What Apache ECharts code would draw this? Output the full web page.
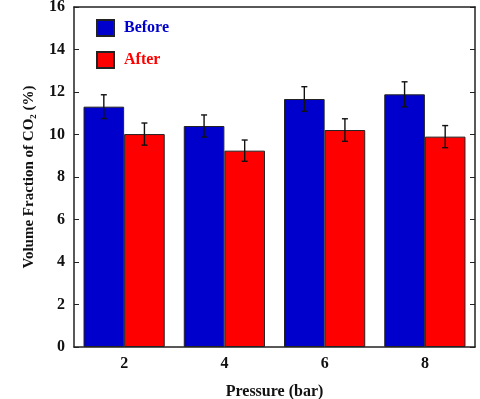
<!DOCTYPE html>
<html>
<head>
<meta charset="utf-8">
<script src="https://cdn.jsdelivr.net/npm/echarts@6/dist/echarts.min.js"></script>
<style>
  html, body { margin: 0; padding: 0; background: #fff; }
  #chart { width: 480px; height: 399px; }
</style>
</head>
<body>
<div id="chart"></div>
<script>
var categories = ['2', '4', '6', '8'];
var before = [11.31, 10.40, 11.67, 11.89];
var after = [10.02, 9.24, 10.21, 9.90];
var beforeErr = [0.56, 0.52, 0.58, 0.59];
var afterErr = [0.52, 0.50, 0.53, 0.52];

var blue = '#0000cc';
var red = '#ff0000';
var lineColor = '#222';
var font = '"Liberation Serif", "DejaVu Serif", serif';
var gapPct = 19;

function errData(vals, errs) {
    return vals.map(function (v, i) {
        return [i, v - errs[i], v + errs[i]];
    });
}

// side: -1 for left bar of the group, +1 for right bar
function errRender(side) {
    return function (params, api) {
        var lo = api.coord([api.value(0), api.value(1)]);
        var hi = api.coord([api.value(0), api.value(2)]);
        var band = api.size([1, 0])[0];
        var barW = band * (1 - gapPct / 100) / 2;
        var x = lo[0] + side * barW / 2;
        var cap = 3;
        var style = { stroke: '#111', lineWidth: 1.4 };
        return {
            type: 'group',
            children: [
                { type: 'line', shape: { x1: x, y1: lo[1], x2: x, y2: hi[1] }, style: style },
                { type: 'line', shape: { x1: x - cap, y1: lo[1], x2: x + cap, y2: lo[1] }, style: style },
                { type: 'line', shape: { x1: x - cap, y1: hi[1], x2: x + cap, y2: hi[1] }, style: style }
            ]
        };
    };
}

var chart = echarts.init(document.getElementById('chart'));
var option = {
    backgroundColor: '#fff',
    animation: false,
    textStyle: { fontFamily: font },
    grid: { left: 74, right: 5, top: 7, bottom: 52, containLabel: false, outerBoundsMode: 'none' },
    legend: {
        orient: 'vertical',
        left: 91,
        top: 14,
        itemWidth: 17,
        itemHeight: 16,
        itemGap: 14,
        icon: 'rect',
        textStyle: { fontFamily: font, fontWeight: 'bold', fontSize: 16, padding: [0, 0, 0, 5] },
        data: [
            { name: 'Before', textStyle: { color: blue } },
            { name: 'After', textStyle: { color: red } }
        ]
    },
    xAxis: [
        {
            type: 'category',
            data: categories,
            name: 'Pressure (bar)',
            nameLocation: 'middle',
            nameGap: 37,
            nameTextStyle: { fontFamily: font, fontWeight: 'bold', fontSize: 16, color: '#111' },
            axisLine: { lineStyle: { color: lineColor, width: 1.5 } },
            axisTick: { inside: true, length: 4, lineStyle: { color: lineColor } },
            axisLabel: { fontFamily: font, fontWeight: 'bold', fontSize: 16, color: '#111', margin: 9 },
            splitLine: { show: false }
        },
        {
            type: 'category',
            data: categories,
            position: 'top',
            axisLine: { onZero: false, lineStyle: { color: lineColor, width: 1.5 } },
            axisTick: { inside: true, length: 4, lineStyle: { color: lineColor } },
            axisLabel: { show: false },
            splitLine: { show: false }
        }
    ],
    yAxis: [
        {
            type: 'value',
            min: 0,
            max: 16,
            interval: 2,
            name: 'Volume Fraction of CO\u2082 (%)',
            nameLocation: 'middle',
            nameGap: 37,
            nameTextStyle: { fontFamily: font, fontWeight: 'bold', fontSize: 15, color: '#111' },
            axisLine: { show: true, lineStyle: { color: lineColor, width: 1.5 } },
            axisTick: { show: true, inside: true, length: 5, lineStyle: { color: lineColor } },
            axisLabel: { fontFamily: font, fontWeight: 'bold', fontSize: 16, color: '#111', margin: 9 },
            splitLine: { show: false }
        },
        {
            type: 'value',
            min: 0,
            max: 16,
            interval: 2,
            position: 'right',
            axisLine: { show: true, onZero: false, lineStyle: { color: lineColor, width: 1.5 } },
            axisTick: { show: true, inside: true, length: 5, lineStyle: { color: lineColor } },
            axisLabel: { show: false },
            splitLine: { show: false }
        }
    ],
    series: [
        {
            name: 'Before',
            type: 'bar',
            data: before,
            barGap: '0%',
            barCategoryGap: gapPct + '%',
            itemStyle: { color: blue, borderColor: lineColor, borderWidth: 1 }
        },
        {
            name: 'After',
            type: 'bar',
            data: after,
            itemStyle: { color: red, borderColor: lineColor, borderWidth: 1 }
        },
        {
            name: 'Before err',
            type: 'custom',
            renderItem: errRender(-1),
            data: errData(before, beforeErr),
            encode: { x: 0, y: [1, 2] },
            z: 10
        },
        {
            name: 'After err',
            type: 'custom',
            renderItem: errRender(1),
            data: errData(after, afterErr),
            encode: { x: 0, y: [1, 2] },
            z: 10
        }
    ]
};
chart.setOption(option);
</script>
</body>
</html>
